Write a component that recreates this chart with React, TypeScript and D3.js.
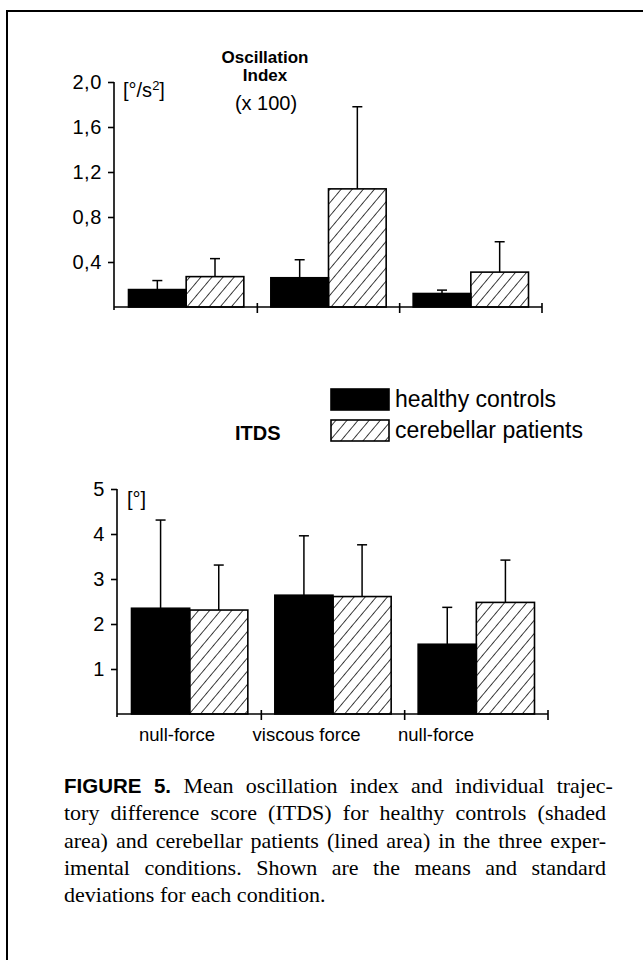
import { useRef, useEffect } from 'react';
import * as d3 from 'd3';

// conditions along the x axis
const conditions = ['null-force', 'viscous force', 'null-force'];
const groups = ['healthy controls', 'cerebellar patients'];

// oscillation index (x 100), means and SDs
const oscHealthy = [0.155, 0.26, 0.12];
const oscHealthySD = [0.08, 0.16, 0.03];
const oscPatients = [0.27, 1.05, 0.31];
const oscPatientsSD = [0.16, 0.73, 0.27];
const oscTicks = [0.4, 0.8, 1.2, 1.6, 2.0];

// ITDS, means and SDs
const itdsHealthy = [2.35, 2.64, 1.55];
const itdsHealthySD = [1.96, 1.32, 0.82];
const itdsPatients = [2.31, 2.61, 2.48];
const itdsPatientsSD = [1.0, 1.15, 0.94];
const itdsTicks = [1, 2, 3, 4, 5];

const captionLines = [
  ' Mean oscillation index and individual trajec-',
  'tory difference score (ITDS) for healthy controls (shaded',
  'area) and cerebellar patients (lined area) in the three exper-',
  'imental conditions. Shown are the means and standard',
  'deviations for each condition.',
];

const SANS = 'Liberation Sans, Arial, Helvetica, sans-serif';
const SERIF = 'Liberation Serif, Times New Roman, serif';

export default function App() {
  const svgRef = useRef(null);

  useEffect(() => {
    const svg = d3.select(svgRef.current);
    svg.selectAll('*').remove();

    // hatch pattern for patients
    const defs = svg.append('defs');
    defs.append('pattern')
      .attr('id', 'hatch')
      .attr('patternUnits', 'userSpaceOnUse')
      .attr('width', 8.5)
      .attr('height', 8.5)
      .attr('patternTransform', 'rotate(40)')
      .append('line')
      .attr('x1', 0).attr('y1', 0).attr('x2', 0).attr('y2', 8.5)
      .attr('stroke', '#000')
      .attr('stroke-width', 1.5);

    // frame
    svg.append('path')
      .attr('d', 'M7,960 V11 H643')
      .attr('fill', 'none')
      .attr('stroke', '#000')
      .attr('stroke-width', 2);

    const drawPanel = (opts) => {
      const { y, x0, x1, healthy, healthySD, patients, patientsSD, ticks, fmt } = opts;
      const x = d3.scaleBand().domain(conditions.map((d, i) => i)).range([x0, x1]);
      const inner = d3.scaleBand().domain(groups).range([13.5, x.bandwidth() - 13.5]);
      const g = svg.append('g');

      const rows = [];
      conditions.forEach((c, i) => {
        rows.push({ i, grp: groups[0], v: healthy[i], sd: healthySD[i] });
        rows.push({ i, grp: groups[1], v: patients[i], sd: patientsSD[i] });
      });

      // error bars (drawn first, bars cover their base)
      rows.forEach(r => {
        const cx = x(r.i) + inner(r.grp) + inner.bandwidth() / 2;
        g.append('line')
          .attr('x1', cx).attr('x2', cx)
          .attr('y1', y(r.v)).attr('y2', y(r.v + r.sd))
          .attr('stroke', '#000').attr('stroke-width', 1.5);
        g.append('line')
          .attr('x1', cx - 5).attr('x2', cx + 5)
          .attr('y1', y(r.v + r.sd)).attr('y2', y(r.v + r.sd))
          .attr('stroke', '#000').attr('stroke-width', 1.5);
      });

      g.selectAll('rect.bar')
        .data(rows)
        .enter()
        .append('rect')
        .attr('class', 'bar')
        .attr('x', d => x(d.i) + inner(d.grp))
        .attr('y', d => y(d.v))
        .attr('width', inner.bandwidth())
        .attr('height', d => y(0) - y(d.v))
        .attr('fill', d => d.grp === groups[0] ? '#000' : 'url(#hatch)')
        .attr('stroke', '#000')
        .attr('stroke-width', 1.6);

      // y axis
      const yAxis = g.append('g')
        .attr('transform', `translate(${x0 - 1},0)`)
        .call(d3.axisLeft(y).tickValues(ticks).tickFormat(fmt).tickSize(6).tickSizeOuter(0));
      yAxis.select('.domain').attr('d', `M0,${y(ticks[ticks.length - 1])}V${y(0) + 3}`).attr('stroke-width', 1.6);
      yAxis.selectAll('.tick line').attr('stroke-width', 1.6);
      yAxis.selectAll('.tick text')
        .attr('font-family', SANS)
        .attr('font-size', 20)
        .attr('letter-spacing', 0.6)
        .attr('fill', '#000')
        .attr('x', -12);

      // x axis
      g.append('line')
        .attr('x1', x0 - 1).attr('x2', x1)
        .attr('y1', y(0)).attr('y2', y(0))
        .attr('stroke', '#000').attr('stroke-width', 1.6);
      conditions.forEach((c, i) => {
        const tx = x(i) + x.bandwidth();
        g.append('line')
          .attr('x1', tx).attr('x2', tx)
          .attr('y1', y(0) - 4).attr('y2', y(0) + 6)
          .attr('stroke', '#000').attr('stroke-width', 1.6);
      });
      return { g, x };
    };

    // top panel: oscillation index
    const yOsc = d3.scaleLinear().domain([0, 2]).range([307, 82]);
    drawPanel({
      y: yOsc, x0: 115, x1: 542,
      healthy: oscHealthy, healthySD: oscHealthySD,
      patients: oscPatients, patientsSD: oscPatientsSD,
      ticks: oscTicks, fmt: d => d3.format('.1f')(d).replace('.', ','),
    });

    const t = svg.append('g').attr('font-family', SANS).attr('fill', '#000');
    t.append('text').attr('x', 265).attr('y', 63).attr('text-anchor', 'middle')
      .attr('font-weight', 'bold').attr('font-size', 17).text('Oscillation');
    t.append('text').attr('x', 265).attr('y', 81).attr('text-anchor', 'middle')
      .attr('font-weight', 'bold').attr('font-size', 17).text('Index');
    t.append('text').attr('x', 266).attr('y', 110).attr('text-anchor', 'middle')
      .attr('font-size', 20).text('(x 100)');
    const unit = t.append('text').attr('x', 123).attr('y', 97).attr('font-size', 20);
    unit.append('tspan').text('[°/s');
    unit.append('tspan').attr('font-size', 13).attr('dy', -7).text('2');
    unit.append('tspan').attr('dy', 7).text(']');

    // legend
    const legend = svg.append('g').attr('font-family', SANS).attr('font-size', 23);
    groups.forEach((grp, i) => {
      legend.append('rect')
        .attr('x', 331).attr('y', 389 + i * 31)
        .attr('width', 58).attr('height', 21)
        .attr('fill', i === 0 ? '#000' : 'url(#hatch)')
        .attr('stroke', '#000').attr('stroke-width', 1.6);
      legend.append('text')
        .attr('x', 395).attr('y', 407 + i * 31)
        .text(grp);
    });
    legend.append('text').attr('x', 235).attr('y', 440)
      .attr('font-weight', 'bold').attr('font-size', 20).text('ITDS');

    // bottom panel: ITDS
    const yItds = d3.scaleLinear().domain([0, 5]).range([714, 489]);
    const bottom = drawPanel({
      y: yItds, x0: 118, x1: 548,
      healthy: itdsHealthy, healthySD: itdsHealthySD,
      patients: itdsPatients, patientsSD: itdsPatientsSD,
      ticks: itdsTicks, fmt: d3.format('d'),
    });
    bottom.g.append('text').attr('x', 127).attr('y', 506)
      .attr('font-family', SANS).attr('font-size', 20).text('[°]');

    // category labels sit left of the band centres in the original
    const xLab = d3.scalePoint().domain(conditions.map((d, i) => i)).range([177, 436]);
    bottom.g.selectAll('text.cat')
      .data(conditions)
      .enter()
      .append('text')
      .attr('class', 'cat')
      .attr('x', (d, i) => xLab(i))
      .attr('y', 741)
      .attr('text-anchor', 'middle')
      .attr('font-family', SANS)
      .attr('font-size', 18.5)
      .text(d => d);

    // caption, justified by widening the word gaps
    const cap = svg.append('g').attr('font-family', SERIF).attr('font-size', 22).attr('fill', '#000');
    const lineWidth = 542;
    captionLines.forEach((line, i) => {
      const txt = cap.append('text').attr('x', 64).attr('y', 793 + i * 27.3);
      if (i === 0) {
        txt.append('tspan').attr('font-family', SANS).attr('font-weight', 'bold')
          .attr('font-size', 20.5).text('FIGURE 5.');
      }
      txt.append('tspan').text(line);
      if (i < captionLines.length - 1) {
        const natural = txt.node().getComputedTextLength();
        const gaps = (line.match(/ /g) || []).length;
        if (gaps > 0 && natural < lineWidth) {
          txt.attr('word-spacing', (lineWidth - natural) / gaps);
        }
      }
    });
  }, []);

  return (
    <svg ref={svgRef} width={643} height={960}
      style={{ position: 'absolute', left: 0, top: 0, background: '#fff' }} />
  );
}
